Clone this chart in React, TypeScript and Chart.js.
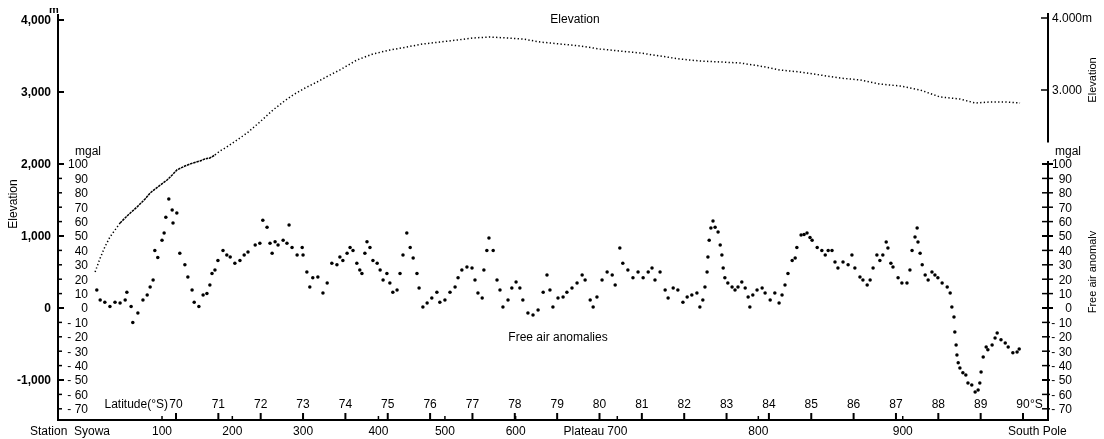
import React, { useEffect, useRef } from "react";
import { Chart, registerables } from "chart.js";

Chart.register(...registerables);

const FONT = '"Liberation Sans", Arial, sans-serif';

// Elevation profile (latitude °S, metres)
const elevLat = [
  68.09, 68.21, 68.32, 68.44, 68.56, 68.68, 68.87, 69.08, 69.27, 69.39,
  69.57, 69.79, 69.91, 70.02, 70.21, 70.4, 70.57, 70.68, 70.8, 70.92,
  71.04, 71.2, 71.44, 71.68, 71.98, 72.29, 72.53, 72.76, 73.05, 73.33,
  73.59, 73.87, 74.27, 74.65, 75.05, 75.45, 75.83, 76.23, 76.64, 77.01,
  77.41, 77.82, 78.19, 78.6, 79.07, 79.54, 80.01, 80.48, 80.96, 81.43,
  81.9, 82.37, 82.85, 83.32, 83.79, 84.26, 84.73, 85.21, 85.68, 86.15,
  86.62, 87.1, 87.57, 88.04, 88.51, 88.87, 89.22, 89.58, 89.93,
];
const elevM = [
  500, 694, 847, 986, 1083, 1181, 1292, 1403, 1514, 1597,
  1681, 1778, 1847, 1917, 1972, 2014, 2042, 2069, 2083, 2125,
  2181, 2236, 2333, 2431, 2583, 2750, 2861, 2958, 3056, 3139,
  3222, 3306, 3444, 3528, 3583, 3625, 3667, 3694, 3722, 3750,
  3764, 3750, 3736, 3694, 3667, 3639, 3597, 3569, 3542, 3500,
  3458, 3431, 3417, 3403, 3361, 3306, 3278, 3236, 3194, 3167,
  3111, 3083, 3028, 2931, 2903, 2847, 2861, 2861, 2847,
];

// Free air anomalies (latitude °S, mgal)
const anomLat = [
  68.13, 68.21, 68.32, 68.44, 68.56, 68.68, 68.8, 68.84, 68.94, 68.98,
  69.1, 69.22, 69.32, 69.39, 69.46, 69.5, 69.57, 69.67, 69.72, 69.76,
  69.83, 69.91, 69.93, 70.02, 70.09, 70.21, 70.28, 70.38, 70.43, 70.54,
  70.64, 70.73, 70.8, 70.85, 70.92, 70.99, 71.11, 71.2, 71.28, 71.39,
  71.51, 71.61, 71.7, 71.87, 71.98, 72.05, 72.15, 72.22, 72.27, 72.34,
  72.41, 72.53, 72.62, 72.67, 72.74, 72.86, 72.98, 73.0, 73.09, 73.16,
  73.23, 73.35, 73.47, 73.57, 73.68, 73.8, 73.87, 73.94, 74.04, 74.11,
  74.18, 74.27, 74.34, 74.39, 74.46, 74.51, 74.58, 74.65, 74.75, 74.82,
  74.89, 74.98, 75.05, 75.12, 75.22, 75.29, 75.36, 75.45, 75.53, 75.6,
  75.69, 75.74, 75.83, 75.93, 76.04, 76.16, 76.23, 76.35, 76.47, 76.59,
  76.66, 76.75, 76.87, 76.99, 77.06, 77.13, 77.23, 77.27, 77.34, 77.39,
  77.49, 77.58, 77.65, 77.72, 77.84, 77.93, 78.03, 78.12, 78.19, 78.31,
  78.43, 78.55, 78.67, 78.76, 78.83, 78.9, 79.02, 79.14, 79.23, 79.35,
  79.47, 79.59, 79.66, 79.78, 79.85, 79.94, 80.06, 80.18, 80.3, 80.37,
  80.48, 80.55, 80.67, 80.79, 80.91, 81.03, 81.15, 81.24, 81.31, 81.43,
  81.55, 81.62, 81.74, 81.85, 81.97, 82.07, 82.18, 82.3, 82.37, 82.44,
  82.49, 82.54, 82.56, 82.59, 82.63, 82.68, 82.73, 82.8, 82.85, 82.89,
  82.92, 82.96, 83.03, 83.13, 83.2, 83.27, 83.36, 83.44, 83.51, 83.55,
  83.62, 83.72, 83.84, 83.91, 84.03, 84.14, 84.24, 84.31, 84.38, 84.45,
  84.55, 84.62, 84.66, 84.76, 84.83, 84.9, 84.97, 85.02, 85.14, 85.25,
  85.33, 85.4, 85.49, 85.56, 85.63, 85.75, 85.87, 85.96, 86.03, 86.15,
  86.22, 86.32, 86.39, 86.46, 86.55, 86.62, 86.69, 86.77, 86.81, 86.88,
  86.93, 87.05, 87.14, 87.26, 87.33, 87.38, 87.45, 87.5, 87.52, 87.57,
  87.62, 87.69, 87.76, 87.85, 87.92, 87.99, 88.09, 88.21, 88.28, 88.32,
  88.37, 88.39, 88.42, 88.44, 88.47, 88.51, 88.58, 88.65, 88.7, 88.79,
  88.87, 88.94, 88.98, 89.01, 89.06, 89.13, 89.17, 89.27, 89.34, 89.39,
  89.48, 89.58, 89.65, 89.76, 89.86, 89.91,
];
const anomMgal = [
  12.5, 5.5, 4, 1, 4, 3.5, 5.5, 11, 1, -10,
  -3.5, 5.5, 9, 14.6, 19.4, 40, 35, 47, 52, 63,
  75.7, 68, 59, 66, 38, 30, 21.5, 12.5, 4, 1,
  9, 10, 16, 24, 26.4, 33, 40, 36.8, 35.4, 31,
  33, 36.8, 38.9, 43.8, 45, 61, 56, 45, 38, 46,
  43.8, 47, 45, 57.6, 42, 36.8, 42, 36.8, 25, 14.6,
  21, 21.5, 10.4, 17.4, 31, 30, 35.4, 33, 38, 42,
  40, 31, 26.4, 24, 38, 46, 42, 33, 31, 26.4,
  19.4, 24, 17.4, 11, 12.5, 24, 36.8, 52, 42, 34.7,
  24, 13.9, 0.7, 3.5, 6.9, 11, 4, 5.5, 11, 14.6,
  21, 26.4, 28.5, 27.8, 19.4, 10.4, 6.9, 26.4, 40, 48.6,
  40, 19.4, 12.5, 0.7, 5.5, 13.9, 18, 13.9, 5.5, -3.5,
  -4.9, -1.4, 11, 23, 12.5, 0.7, 6.9, 7.6, 11, 13.9,
  17.4, 23, 19.4, 5.5, 0.7, 7.6, 19.4, 25, 23, 16,
  41.7, 31, 26.4, 21, 25, 21, 25, 27.8, 19.4, 25,
  12.5, 6.9, 13.9, 12.5, 4, 7.6, 9, 10.4, 0.7, 5.5,
  14.6, 25, 35.4, 47, 55.5, 60.4, 56, 52.8, 43.8, 36.8,
  27.8, 21, 17.4, 14.6, 12.5, 14.6, 18, 13.9, 7.6, 0.7,
  9, 12.5, 13.9, 10.4, 5.5, 10.4, 3.5, 9, 16, 24,
  33, 34.7, 42, 50.7, 51, 52, 49, 47, 42, 40,
  36.8, 40, 40, 32, 27.8, 32, 30, 36.8, 27.8, 21.5,
  19.4, 16, 19.4, 27.8, 36.8, 33, 36.8, 45.8, 41.7, 31,
  28.5, 21, 17.4, 17.4, 26.4, 40, 49.3, 55.5, 45.8, 38,
  30, 23, 19.4, 25, 23, 21, 17.4, 14.6, 10.4, 0.7,
  -6.3, -16.7, -25.7, -32.6, -38, -41.7, -45, -46.5, -52, -53.5,
  -58.3, -57, -52, -44.4, -34, -27, -29, -25.7, -20.8, -17.4,
  -22, -24.3, -27, -31, -30.6, -28.5,
];

// Axis ticks and labels
const latTicks = [70, 71, 72, 73, 74, 75, 76, 77, 78, 79, 80, 81, 82, 83, 84, 85, 86, 87, 88, 89, 90];
const distTickLat = [69.67, 71.33, 73.0, 74.78, 76.35, 78.02, 80.42, 83.75, 87.16];
const distTickLabels = ["100", "200", "300", "400", "500", "600", "700", "800", "900"];
const elevTicks = [-1000, 0, 1000, 2000, 3000, 4000];
const elevTickLabels = ["-1,000", "0", "1,000", "2,000", "3,000", "4,000"];
const elevRightTicks = [4000, 3000];
const elevRightLabels = ["4.000m", "3.000"];
const mgalTicks = [100, 90, 80, 70, 60, 50, 40, 30, 20, 10, 0, -10, -20, -30, -40, -50, -60, -70];

const mgalLabel = (v: number) => (v < 0 ? "- " + Math.abs(v) : String(v));

const paperAxes = {
  id: "paperAxes",
  afterDatasetsDraw(chart: any) {
    const { ctx, chartArea: a, scales } = chart;
    const x = scales.x;
    const y = scales.y;
    const g = scales.g;
    ctx.save();
    ctx.fillStyle = "#000";
    ctx.strokeStyle = "#000";

    // axis lines
    ctx.lineWidth = 2;
    ctx.beginPath();
    ctx.moveTo(a.left, a.top);
    ctx.lineTo(a.left, a.bottom);
    ctx.lineTo(a.right, a.bottom);
    ctx.stroke();
    ctx.beginPath();
    ctx.moveTo(a.right, a.top - 1);
    ctx.lineTo(a.right, y.getPixelForValue(2300));
    ctx.stroke();
    ctx.beginPath();
    ctx.moveTo(a.right, g.getPixelForValue(102));
    ctx.lineTo(a.right, a.bottom + 1);
    ctx.stroke();

    // left elevation ticks + labels
    ctx.font = "bold 12px " + FONT;
    ctx.textAlign = "right";
    ctx.textBaseline = "middle";
    elevTicks.forEach((v, i) => {
      const py = y.getPixelForValue(v);
      ctx.lineWidth = 2;
      ctx.beginPath();
      ctx.moveTo(a.left, py);
      ctx.lineTo(a.left + 6, py);
      ctx.stroke();
      ctx.fillText(elevTickLabels[i], a.left - 7, py + 1);
    });
    ctx.font = "bold 11px " + FONT;
    ctx.textAlign = "center";
    ctx.fillText("m", a.left - 4, y.getPixelForValue(4000) - 10);

    // left mgal ticks + labels
    ctx.font = "12px " + FONT;
    ctx.textAlign = "right";
    mgalTicks.forEach((v) => {
      const py = g.getPixelForValue(v);
      ctx.lineWidth = 1.5;
      ctx.beginPath();
      ctx.moveTo(a.left, py);
      ctx.lineTo(a.left + 4, py);
      ctx.stroke();
      ctx.fillText(mgalLabel(v), a.left + 30, py + 1);
    });
    ctx.textAlign = "center";
    ctx.fillText("mgal", a.left + 30, g.getPixelForValue(100) - 12);

    // left title
    ctx.save();
    ctx.translate(6, 196);
    ctx.rotate(-Math.PI / 2);
    ctx.font = "12px " + FONT;
    ctx.textAlign = "center";
    ctx.fillText("Elevation", 0, 0);
    ctx.restore();

    // right elevation ticks + labels
    ctx.font = "12px " + FONT;
    ctx.textAlign = "left";
    elevRightTicks.forEach((v, i) => {
      const py = y.getPixelForValue(v) - 2;
      ctx.lineWidth = 1.5;
      ctx.beginPath();
      ctx.moveTo(a.right - 7, py);
      ctx.lineTo(a.right, py);
      ctx.stroke();
      ctx.fillText(elevRightLabels[i], a.right + 4, py + 1);
    });

    // right mgal ticks + labels
    ctx.textAlign = "right";
    mgalTicks.forEach((v) => {
      const py = g.getPixelForValue(v);
      ctx.lineWidth = v % 50 === 0 ? 2 : 1.5;
      ctx.beginPath();
      ctx.moveTo(a.right - 6, py);
      ctx.lineTo(a.right + (v < 0 ? 2 : 5), py);
      ctx.stroke();
      ctx.fillText(mgalLabel(v), a.right + 24, py + 1);
    });
    ctx.textAlign = "center";
    ctx.fillText("mgal", a.right + 20, g.getPixelForValue(100) - 12);

    // right titles
    ctx.font = "11px " + FONT;
    ctx.save();
    ctx.translate(a.right + 45, 72);
    ctx.rotate(-Math.PI / 2);
    ctx.fillText("Elevation", 0, 0);
    ctx.restore();
    ctx.save();
    ctx.translate(a.right + 45, 264);
    ctx.rotate(-Math.PI / 2);
    ctx.fillText("Free air anomaly", 0, 0);
    ctx.restore();

    // series captions
    ctx.font = "12px " + FONT;
    ctx.textAlign = "center";
    ctx.fillText("Elevation", 567, 12);
    ctx.fillText("Free air anomalies", 550, 330);

    // latitude ticks + labels (inside plot, above the base line)
    ctx.font = "12px " + FONT;
    ctx.textAlign = "center";
    latTicks.forEach((v) => {
      const px = x.getPixelForValue(v);
      ctx.lineWidth = 2;
      ctx.beginPath();
      ctx.moveTo(px, a.bottom);
      ctx.lineTo(px, a.bottom - 7);
      ctx.stroke();
      ctx.fillText(String(v), px, a.bottom - 15);
      if (v === 90) {
        ctx.textAlign = "left";
        ctx.fillText("°S", px + 7, a.bottom - 15);
        ctx.textAlign = "center";
      }
    });
    ctx.textAlign = "right";
    ctx.fillText("Latitude(°S)", x.getPixelForValue(70) - 8, a.bottom - 15);

    // distance ticks + labels (below the base line)
    distTickLat.forEach((v, i) => {
      const px = x.getPixelForValue(v);
      ctx.lineWidth = 1.5;
      ctx.beginPath();
      ctx.moveTo(px, a.bottom);
      ctx.lineTo(px, a.bottom - 4);
      ctx.stroke();
      ctx.textAlign = "center";
      ctx.fillText(distTickLabels[i], px, a.bottom + 12);
      if (distTickLabels[i] === "700") {
        ctx.textAlign = "right";
        ctx.fillText("Plateau", px - 13, a.bottom + 12);
      }
    });
    ctx.textAlign = "left";
    ctx.fillText("Station  Syowa", 22, a.bottom + 12);
    ctx.fillText("South Pole", 1000, a.bottom + 12);

    ctx.restore();
  },
};

export default function App() {
  const ref = useRef<HTMLCanvasElement>(null);
  useEffect(() => {
    document.body.style.overflow = "hidden";
    const chart = new Chart(ref.current as HTMLCanvasElement, {
      type: "scatter",
      data: {
        datasets: [
          {
            label: "Elevation",
            data: elevLat.map((v, i) => ({ x: v, y: elevM[i] })),
            yAxisID: "y",
            showLine: true,
            pointRadius: 0,
            borderColor: "#000",
            borderWidth: 1.5,
            borderDash: [1.3, 2.3],
            segment: {
              borderDash: (c: any) =>
                c.p0.parsed.x >= 68.6 && c.p0.parsed.x < 70.85 ? [2.5, 0.8] : undefined,
            },
          } as any,
          {
            label: "Free air anomalies",
            data: anomLat.map((v, i) => ({ x: v, y: anomMgal[i] })),
            yAxisID: "g",
            pointRadius: 1.75,
            pointBackgroundColor: "#000",
            backgroundColor: "#000",
            borderWidth: 0,
          },
        ],
      },
      options: {
        animation: false,
        responsive: true,
        maintainAspectRatio: false,
        events: [],
        layout: { padding: { left: 50, right: 56, top: 6, bottom: 19 } },
        plugins: { legend: { display: false }, tooltip: { enabled: false } },
        scales: {
          x: { type: "linear", min: 67.214, max: 90.59, display: false },
          y: { type: "linear", min: -1555.6, max: 4083.3, display: false },
          g: { type: "linear", min: -77.78, max: 204.17, display: false },
        },
      },
      plugins: [paperAxes],
    });
    return () => chart.destroy();
  }, []);
  return (
    <div style={{ width: 1096, height: 431, position: "relative" }}>
      <canvas ref={ref} />
    </div>
  );
}
